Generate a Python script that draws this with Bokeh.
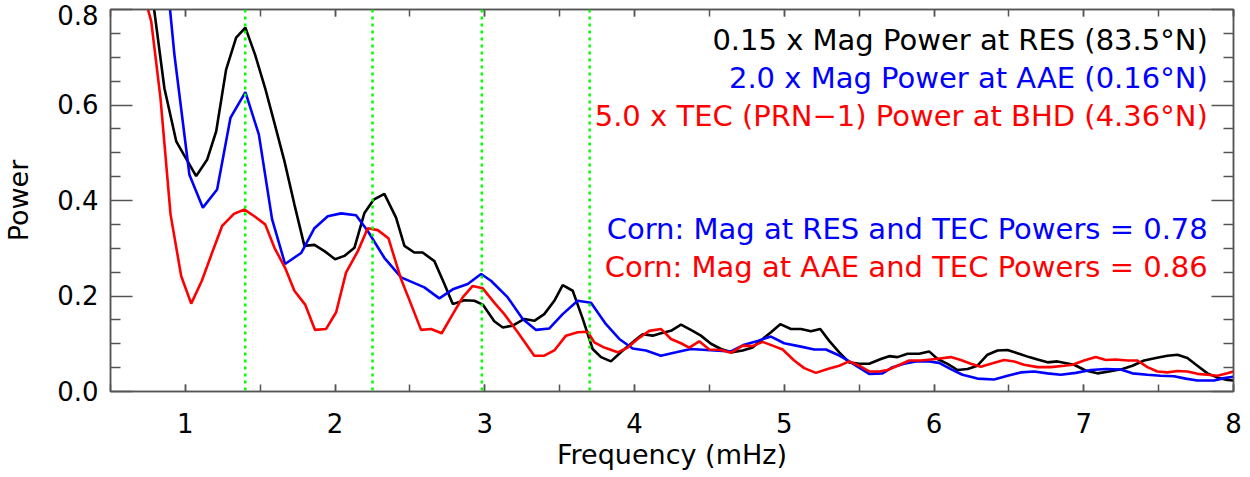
from bokeh.plotting import figure
from bokeh.models import Range1d, LinearAxis, FixedTicker, Label, Span, PrintfTickFormatter
from bokeh.embed import file_html
from bokeh.resources import INLINE

# ---- data ----
freq_res = [0.66, 0.727, 0.860, 0.939, 1.072, 1.146, 1.206, 1.272, 1.339, 1.401, 1.466, 1.533, 1.595, 1.662,
            1.728, 1.795, 1.862, 1.929, 2.000, 2.062, 2.129, 2.196, 2.258, 2.329, 2.407, 2.463, 2.529, 2.585,
            2.663, 2.730, 2.786, 2.863, 2.930, 2.986, 3.063, 3.120, 3.186, 3.264, 3.330, 3.397, 3.464, 3.520,
            3.587, 3.654, 3.720, 3.776, 3.842, 3.921, 3.998, 4.054, 4.121, 4.176, 4.243, 4.310, 4.388, 4.443,
            4.510, 4.577, 4.644, 4.722, 4.788, 4.855, 4.911, 4.973, 5.044, 5.111, 5.178, 5.240, 5.300, 5.367,
            5.433, 5.500, 5.567, 5.645, 5.700, 5.756, 5.823, 5.901, 5.967, 6.024, 6.090, 6.157, 6.224, 6.290,
            6.357, 6.424, 6.491, 6.568, 6.635, 6.691, 6.758, 6.824, 6.935, 7.013, 7.091, 7.169, 7.258, 7.325,
            7.403, 7.481, 7.559, 7.626, 7.692, 7.759, 7.826, 7.893, 7.959, 8.0]
power_res = [1.2, 0.955, 0.635, 0.524, 0.451, 0.486, 0.545, 0.674, 0.741, 0.762, 0.705, 0.635, 0.562, 0.482,
             0.392, 0.305, 0.307, 0.294, 0.277, 0.284, 0.301, 0.374, 0.402, 0.414, 0.364, 0.305, 0.291, 0.291,
             0.273, 0.225, 0.183, 0.191, 0.190, 0.182, 0.147, 0.134, 0.138, 0.152, 0.148, 0.162, 0.190, 0.223,
             0.211, 0.152, 0.089, 0.072, 0.063, 0.086, 0.106, 0.120, 0.117, 0.122, 0.127, 0.140, 0.127, 0.117,
             0.100, 0.089, 0.082, 0.086, 0.092, 0.110, 0.124, 0.141, 0.131, 0.131, 0.126, 0.131, 0.106, 0.082,
             0.061, 0.058, 0.058, 0.068, 0.074, 0.072, 0.079, 0.079, 0.084, 0.068, 0.058, 0.045, 0.047, 0.054,
             0.077, 0.086, 0.087, 0.079, 0.072, 0.067, 0.061, 0.063, 0.056, 0.044, 0.038, 0.042, 0.047, 0.054,
             0.065, 0.070, 0.075, 0.077, 0.070, 0.054, 0.038, 0.029, 0.024, 0.023]

freq_aae = [0.82, 0.927, 1.027, 1.117, 1.212, 1.301, 1.401, 1.491, 1.579, 1.666, 1.773, 1.862, 1.951, 2.040,
            2.140, 2.218, 2.329, 2.441, 2.596, 2.696, 2.786, 2.886, 2.975, 3.041, 3.153, 3.253, 3.342, 3.431,
            3.520, 3.620, 3.709, 3.809, 3.898, 3.987, 4.076, 4.176, 4.277, 4.376, 4.532, 4.644, 4.732, 4.822,
            4.911, 4.999, 5.111, 5.200, 5.278, 5.356, 5.423, 5.489, 5.567, 5.656, 5.723, 5.800, 5.879, 5.967,
            6.034, 6.112, 6.190, 6.290, 6.401, 6.491, 6.579, 6.668, 6.758, 6.846, 6.947, 7.047, 7.147, 7.247,
            7.325, 7.425, 7.514, 7.603, 7.681, 7.759, 7.870, 7.937, 8.0]
power_aae = [1.05, 0.705, 0.454, 0.385, 0.423, 0.573, 0.627, 0.538, 0.361, 0.267, 0.290, 0.342, 0.367, 0.373,
             0.369, 0.336, 0.280, 0.239, 0.218, 0.195, 0.214, 0.225, 0.246, 0.232, 0.197, 0.152, 0.129, 0.132,
             0.162, 0.190, 0.186, 0.141, 0.110, 0.090, 0.086, 0.075, 0.082, 0.089, 0.086, 0.084, 0.098, 0.106,
             0.115, 0.101, 0.094, 0.088, 0.088, 0.077, 0.065, 0.052, 0.037, 0.038, 0.051, 0.058, 0.063, 0.063,
             0.060, 0.047, 0.035, 0.027, 0.025, 0.033, 0.040, 0.042, 0.038, 0.035, 0.039, 0.045, 0.047, 0.046,
             0.038, 0.035, 0.033, 0.032, 0.027, 0.023, 0.023, 0.028, 0.031]

freq_tec = [0.705, 0.772, 0.834, 0.901, 0.972, 1.039, 1.110, 1.179, 1.246, 1.324,
            1.395, 1.461, 1.533, 1.595, 1.666, 1.728, 1.800, 1.866, 1.940, 2.007,
            2.073, 2.152, 2.218, 2.285, 2.356, 2.441, 2.507, 2.574, 2.641, 2.712,
            2.786, 2.852, 2.919, 2.986, 3.063, 3.130, 3.220, 3.330, 3.397, 3.464,
            3.542, 3.620, 3.687, 3.731, 3.798, 3.887, 3.954, 4.021, 4.098, 4.176,
            4.243, 4.310, 4.365, 4.432, 4.499, 4.577, 4.644, 4.722, 4.788, 4.855,
            4.922, 4.989, 5.066, 5.133, 5.211, 5.289, 5.367, 5.433, 5.500, 5.567,
            5.634, 5.690, 5.756, 5.834, 5.912, 6.012, 6.112, 6.179, 6.246, 6.312,
            6.391, 6.468, 6.535, 6.601, 6.691, 6.780, 6.869, 6.925, 7.002, 7.080,
            7.147, 7.214, 7.292, 7.358, 7.425, 7.492, 7.559, 7.626, 7.692, 7.759,
            7.826, 7.893, 7.959, 8.0]
power_tec = [0.853, 0.775, 0.614, 0.371, 0.242, 0.184, 0.232, 0.291, 0.347, 0.372,
             0.381, 0.367, 0.350, 0.301, 0.259, 0.211, 0.182, 0.129, 0.131, 0.166,
             0.249, 0.294, 0.342, 0.338, 0.321, 0.235, 0.183, 0.129, 0.131, 0.122,
             0.162, 0.197, 0.221, 0.216, 0.186, 0.162, 0.124, 0.075, 0.075, 0.086,
             0.117, 0.124, 0.125, 0.103, 0.092, 0.082, 0.092, 0.110, 0.127, 0.131,
             0.110, 0.101, 0.092, 0.105, 0.088, 0.087, 0.081, 0.096, 0.095, 0.104,
             0.096, 0.088, 0.065, 0.049, 0.039, 0.047, 0.054, 0.063, 0.054, 0.042,
             0.042, 0.045, 0.054, 0.065, 0.065, 0.068, 0.072, 0.066, 0.058, 0.052,
             0.059, 0.066, 0.063, 0.056, 0.051, 0.051, 0.054, 0.056, 0.065, 0.072,
             0.066, 0.067, 0.065, 0.065, 0.051, 0.042, 0.040, 0.043, 0.042, 0.037,
             0.035, 0.033, 0.038, 0.042]

marker_freqs = [1.40, 2.25, 2.98, 3.70]

x_major_ticks = [1, 2, 3, 4, 5, 6, 7, 8]
x_minor_ticks = [0.5, 1.0, 1.5, 2.0, 2.5, 3.0, 3.5, 4.0, 4.5, 5.0, 5.5, 6.0, 6.5, 7.0, 7.5, 8.0]
y_major_ticks = [0.0, 0.2, 0.4, 0.6, 0.8]
y_minor_ticks = [0.05, 0.1, 0.15, 0.25, 0.3, 0.35, 0.45, 0.5, 0.55, 0.65, 0.7, 0.75]

legend_lines = [
    ("0.15 x Mag Power at RES (83.5°N)", "#000000", 0.736),
    ("2.0 x Mag Power at AAE (0.16°N)", "#0000ff", 0.656),
    ("5.0 x TEC (PRN\u22121) Power at BHD (4.36°N)", "#ff0000", 0.576),
    ("Corn: Mag at RES and TEC Powers = 0.78", "#0000ff", 0.340),
    ("Corn: Mag at AAE and TEC Powers = 0.86", "#ff0000", 0.260),
]

FONT = "DejaVu Sans"
AX = "#555555"

p = figure(width=1250, height=477,
           x_range=Range1d(0.5, 8.0), y_range=Range1d(0.0, 0.8),
           output_backend="svg", toolbar_location=None,
           min_border_left=110, min_border_right=17, min_border_top=9, min_border_bottom=86,
           x_axis_label="Frequency (mHz)", y_axis_label="Power")
p.grid.visible = False
p.outline_line_color = AX
p.outline_line_width = 1.5
p.background_fill_color = "white"
p.border_fill_color = "white"

def style_axis(ax, ticker, tick_in, minor_in, show_labels):
    ax.ticker = ticker
    ax.axis_line_color = AX
    ax.axis_line_width = 1.5
    ax.major_tick_line_color = AX
    ax.minor_tick_line_color = AX
    ax.major_tick_line_width = 1.5
    ax.minor_tick_line_width = 1.5
    ax.major_tick_in = tick_in
    ax.major_tick_out = 0
    ax.minor_tick_in = minor_in
    ax.minor_tick_out = 0
    if show_labels:
        ax.major_label_text_font = FONT
        ax.major_label_text_font_size = "26px"
        ax.major_label_text_color = "black"
        ax.axis_label_text_font = FONT
        ax.axis_label_text_font_size = "27px"
        ax.axis_label_text_font_style = "normal"
        ax.axis_label_text_color = "black"
    else:
        ax.major_label_text_font_size = "1px"
        ax.major_label_text_color = None
        ax.major_label_standoff = 0

xt = FixedTicker(ticks=x_major_ticks, minor_ticks=x_minor_ticks)
yt = FixedTicker(ticks=y_major_ticks, minor_ticks=y_minor_ticks)

xa = p.xaxis[0]
style_axis(xa, xt, 7, 7, True)
xa.major_label_standoff = 21
xa.axis_label_standoff = 3

ya = p.yaxis[0]
style_axis(ya, yt, 22, 10, True)
ya.formatter = PrintfTickFormatter(format="%.1f")
ya.major_label_standoff = 12
ya.axis_label_standoff = 20
# the top label sits just below its tick, as in the reference
ya.major_label_overrides = {0.8: "0.8\n "}

top = LinearAxis()
style_axis(top, FixedTicker(ticks=x_major_ticks, minor_ticks=x_minor_ticks), 7, 7, False)
p.add_layout(top, "above")

right = LinearAxis()
style_axis(right, FixedTicker(ticks=y_major_ticks, minor_ticks=y_minor_ticks), 22, 10, False)
p.add_layout(right, "right")

for f in marker_freqs:
    p.add_layout(Span(location=f, dimension="height", line_color="#00ff00",
                      line_dash="3 4", line_width=2.5))

p.line(freq_res, power_res, line_color="#000000", line_width=2.6)
p.line(freq_aae, power_aae, line_color="#0000ff", line_width=2.6)
p.line(freq_tec, power_tec, line_color="#ff0000", line_width=2.6)

for txt, col, yv in legend_lines:
    p.add_layout(Label(x=7.828, y=yv, text=txt, text_align="right", text_baseline="alphabetic",
                       text_font=FONT, text_font_size="29px", text_color=col))

open("out.html", "w").write(file_html(p, INLINE))
